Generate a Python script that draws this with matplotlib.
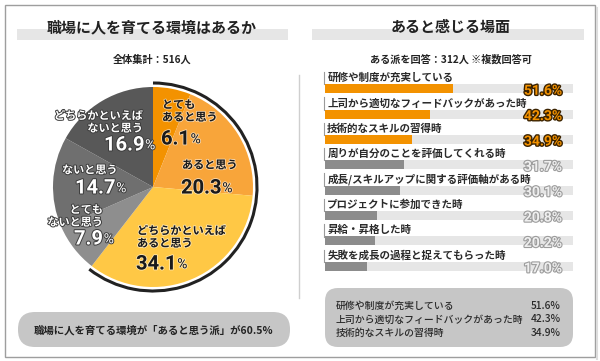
import matplotlib.pyplot as plt
import matplotlib.patheffects as pe
from matplotlib.patches import Rectangle, FancyBboxPatch, Arc

plt.rcParams['font.family'] = ['Noto Sans CJK JP', 'DejaVu Sans']
NUM_PROPS = dict(family=['Roboto', 'DejaVu Sans'], fontweight='bold')

# データ
pie_labels = ['とても\nあると思う', 'あると思う', 'どちらかといえば\nあると思う',
              'とても\nないと思う', 'ないと思う', 'どちらかといえば\nないと思う']
pie_values = [6.1, 20.3, 34.1, 7.9, 14.7, 16.9]
pie_colors = ['#F39200', '#F8A53A', '#FFC845', '#8E8E8E', '#6F6F6F', '#585858']

scene_labels = ['研修や制度が充実している', '上司から適切なフィードバックがあった時',
                '技術的なスキルの習得時', '周りが自分のことを評価してくれる時',
                '成長/スキルアップに関する評価軸がある時', 'プロジェクトに参加できた時',
                '昇給・昇格した時', '失敗を成長の過程と捉えてもらった時']
scene_values = [51.6, 42.3, 34.9, 31.7, 30.1, 20.8, 20.2, 17.0]
top_n = 3

left_title = '職場に人を育てる環境はあるか'
left_sub = '全体集計：516人'
right_title = 'あると感じる場面'
right_sub = 'ある派を回答：312人 ※複数回答可'
left_note = '職場に人を育てる環境が「あると思う派」が60.5%'

W, H = 600, 361
fig = plt.figure(figsize=(6, 3.61), dpi=100)

# 背景（ピクセル座標）
bg = fig.add_axes([0, 0, 1, 1])
bg.set_xlim(0, W)
bg.set_ylim(H, 0)
bg.axis('off')

bg.add_patch(Rectangle((5, 5), 590, 352, fill=False, edgecolor='#9E9E9E', lw=1))
bg.plot([597, 597], [8, 359], color='#DDDDDD', lw=1.5)
bg.plot([299, 299], [75, 298], color='#CFCFCF', lw=1)

# タイトル
for x0, x1, cx, title, sub in [(17, 288, 152, left_title, left_sub),
                               (312, 584, 451, right_title, right_sub)]:
    bg.add_patch(Rectangle((x0, 29), x1 - x0, 11, color='#E6E6E6', lw=0))
    bg.text(cx, 27, title, ha='center', va='center', fontsize=10.8,
            fontweight='bold', color='#222222')
    bg.text(cx, 60, sub, ha='center', va='center', fontsize=7.3,
            fontweight='bold', color='#222222')

# 下部ボックス
bg.add_patch(FancyBboxPatch((18, 312), 272, 35, boxstyle='round,pad=0,rounding_size=17',
                            facecolor='#C6C6C6', edgecolor='none'))
bg.text(154, 330, left_note, ha='center', va='center', fontsize=7.5,
        fontweight='bold', color='#222222')

bg.add_patch(FancyBboxPatch((325, 288), 248, 59, boxstyle='round,pad=0,rounding_size=13',
                            facecolor='#C6C6C6', edgecolor='none'))
for i in range(top_n):
    yy = 306 + i * 13.5
    bg.text(336, yy, scene_labels[i], ha='left', va='center', fontsize=7.1,
            fontweight='medium', color='#2A2A2A')
    bg.text(561, yy, f'{scene_values[i]:.1f}%', ha='right', va='center', fontsize=7.3,
            fontweight='medium', color='#2A2A2A')

# 円グラフ
cx, cy, r = 153, 187, 100
ax_pie = fig.add_axes([(cx - 1.1 * r) / W, (H - cy - 1.1 * r) / H, 2.2 * r / W, 2.2 * r / H])
ax_pie.pie(pie_values, colors=pie_colors, startangle=90, counterclock=False,
           wedgeprops=dict(linewidth=0))
ax_pie.set_xlim(-1.1, 1.1)
ax_pie.set_ylim(-1.1, 1.1)
ax_pie.axis('off')
yes_share = sum(pie_values[:3]) / sum(pie_values)
ax_pie.add_patch(Arc((0, 0), 2.08, 2.08, theta1=90 - 360 * yes_share, theta2=90,
                     color='#222222', lw=2.2))

# 棒グラフ
y_top, y_bot = 76, 279
ax_bar = fig.add_axes([325 / W, (H - y_bot) / H, 248 / W, (y_bot - y_top) / H])
ax_bar.set_xlim(0, 100)
ax_bar.set_ylim(len(scene_values) - 0.5, -0.5)
ax_bar.axis('off')
ys = list(range(len(scene_values)))
ax_bar.barh(ys, [100] * len(ys), height=0.35, color='#E6E6E6', lw=0)
bar_colors = ['#F39200' if i < top_n else '#8C8C8C' for i in ys]
ax_bar.barh(ys, scene_values, height=0.35, color=bar_colors, lw=0)
for i, (lab, v) in enumerate(zip(scene_labels, scene_values)):
    ax_bar.plot([-0.3, -0.3], [i - 0.66, i - 0.17], color='#9A9A9A', lw=0.8,
                clip_on=False)
    ax_bar.text(0.9, i - 0.42, lab, ha='left', va='center', fontsize=7.6,
                fontweight='bold', color='#2A2A2A')
    if i < top_n:
        fc, ec, lw = '#F39200', '#3A2200', 2.0
    else:
        fc, ec, lw = '#EFEFEF', '#9C9C9C', 1.6
    ax_bar.text(95.6, i + 0.08, f'{v:.1f}%', ha='right', va='center', fontsize=10,
                color=fc, path_effects=[pe.Stroke(linewidth=lw, foreground=ec), pe.Normal()],
                **NUM_PROPS)

# 円グラフのラベル（ピクセル座標）
ax_txt = fig.add_axes([0, 0, 1, 1])
ax_txt.set_xlim(0, W)
ax_txt.set_ylim(H, 0)
ax_txt.axis('off')

# (ラベルx, ラベルy, ha, 数値x, 数値y)
label_pos = [(162, 111, 'left', 161, 139),
             (182, 165, 'left', 181, 188),
             (137, 237, 'left', 136, 264),
             (103, 216, 'right', 74, 239),
             (62, 170, 'left', 75, 188),
             (143, 122, 'right', 104, 145)]

for i, (lab, v) in enumerate(zip(pie_labels, pie_values)):
    lx, ly, ha, nx, ny = label_pos[i]
    if i < 3:
        tc = '#1A1A1A'
        fx = [pe.Stroke(linewidth=1.2, foreground='white', alpha=0.6), pe.Normal()]
    else:
        tc = 'white'
        fx = [pe.Stroke(linewidth=1.4, foreground='#3C3C3C'), pe.Normal()]
    ax_txt.text(lx, ly, lab, ha=ha, va='center', fontsize=8, fontweight='bold',
                color=tc, linespacing=0.95, multialignment=ha, path_effects=fx)
    num = ax_txt.text(nx, ny, f'{v:.1f}', ha='left', va='center', fontsize=14.5,
                      color=tc, path_effects=fx, **NUM_PROPS)
    ax_txt.annotate('%', xy=(1, 0.12), xycoords=num, xytext=(0.5, 0),
                    textcoords='offset points', ha='left', va='bottom', fontsize=10,
                    color=tc, path_effects=fx, family=['Roboto', 'DejaVu Sans'])

fig.savefig('out.png', dpi=100)
